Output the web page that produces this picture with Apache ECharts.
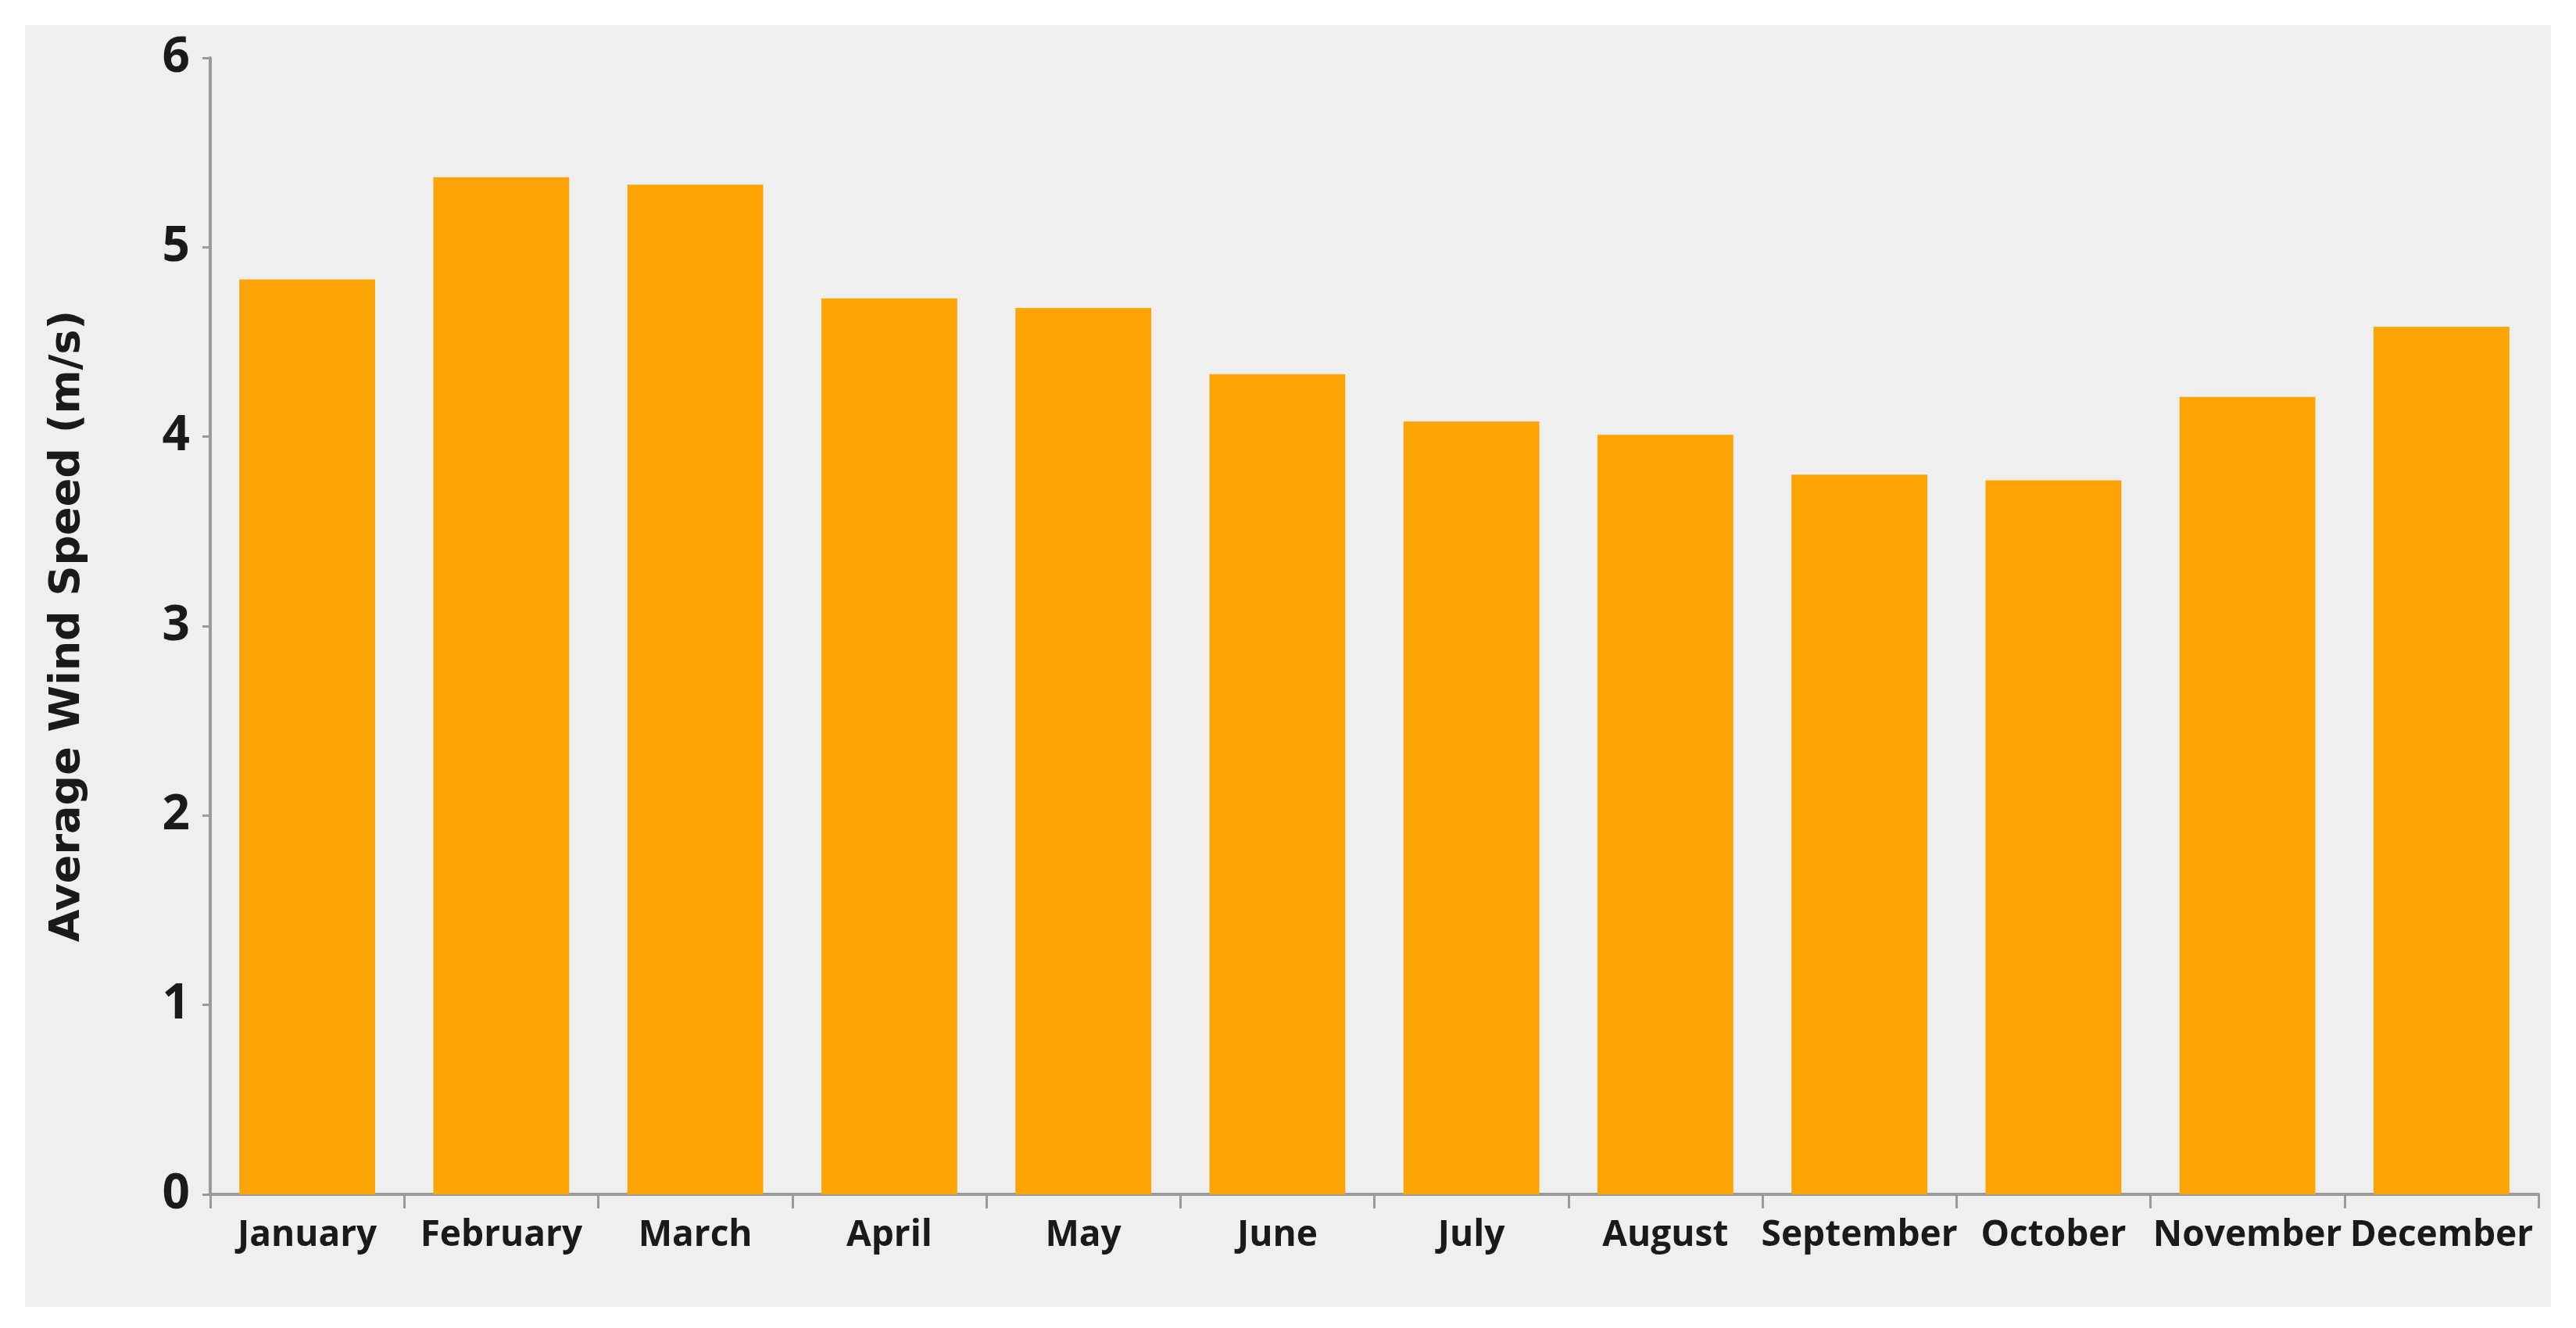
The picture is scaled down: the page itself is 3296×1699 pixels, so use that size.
<!DOCTYPE html>
<html>
<head>
<meta charset="utf-8">
<script src="https://cdn.jsdelivr.net/npm/echarts@6/dist/echarts.min.js"></script>
<style>
  html, body { margin: 0; padding: 0; background: #ffffff; }
  #chart { position: absolute; left: 32px; top: 32px; width: 3232px; height: 1640px; background: #efefef; }
</style>
</head>
<body>
<div id="chart"></div>
<script>
var months = ['January', 'February', 'March', 'April', 'May', 'June', 'July', 'August', 'September', 'October', 'November', 'December'];
var windSpeed = [4.83, 5.37, 5.33, 4.73, 4.68, 4.33, 4.08, 4.01, 3.80, 3.77, 4.21, 4.58];

var myChart = echarts.init(document.getElementById('chart'), null, { renderer: 'canvas' });

var option = {
    animation: false,
    grid: { left: 237, right: 16, top: 42, bottom: 144 },
    xAxis: {
        type: 'category',
        data: months,
        axisLine: { lineStyle: { color: '#9a9a9a', width: 4 } },
        axisTick: { show: true, length: 18, lineStyle: { color: '#9a9a9a', width: 3 } },
        axisLabel: {
            color: '#1a1a1a', fontWeight: 'bold', fontSize: 46, margin: 30,
            fontFamily: '"Liberation Sans Narrow", "Open Sans", sans-serif',
            interval: 0
        }
    },
    yAxis: {
        type: 'value',
        min: 0, max: 6, interval: 1,
        name: 'Average Wind Speed (m/s)',
        nameLocation: 'middle',
        nameGap: 155,
        nameTextStyle: { color: '#1a1a1a', fontWeight: 'bold', fontSize: 54, fontFamily: '"DejaVu Sans", sans-serif' },
        axisLine: { show: true, lineStyle: { color: '#9a9a9a', width: 4 } },
        axisTick: { show: true, length: 10, lineStyle: { color: '#9a9a9a', width: 3 } },
        splitLine: { show: false },
        axisLabel: {
            color: '#1a1a1a', fontWeight: 'bold', fontSize: 62, margin: 26,
            fontFamily: '"Liberation Sans Narrow", "Open Sans", sans-serif'
        }
    },
    series: [
        {
            type: 'bar',
            data: windSpeed,
            barCategoryGap: '30%',
            itemStyle: { color: '#fba404', borderColor: '#fcc55e', borderWidth: 0 }
        }
    ]
};

myChart.setOption(option);
window.addEventListener('resize', myChart.resize);
</script>
</body>
</html>
